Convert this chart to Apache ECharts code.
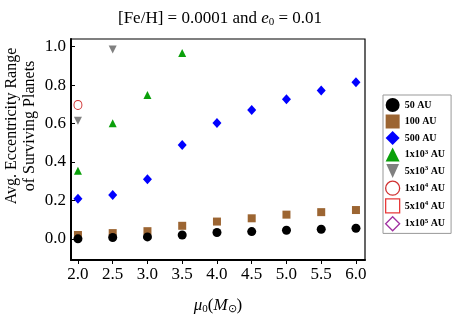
<!DOCTYPE html>
<html><head><meta charset="utf-8">
<script src="https://cdn.jsdelivr.net/npm/echarts@6/dist/echarts.min.js"></script>
<style>html,body{margin:0;padding:0;background:#fff}#c{width:463px;height:327px}</style>
</head><body><div id="c"></div>
<script>
const masses = [2.0, 2.5, 3.0, 3.5, 4.0, 4.5, 5.0, 5.5, 6.0];
const xTicks = [2.0, 2.5, 3.0, 3.5, 4.0, 4.5, 5.0, 5.5, 6.0];
const yTicks = [0.0, 0.2, 0.4, 0.6, 0.8, 1.0];
const seriesNames = ['50 AU', '100 AU', '500 AU', '1x10^3 AU', '5x10^3 AU', '1x10^4 AU', '5x10^4 AU', '1x10^5 AU'];
const e50 = [0.0, 0.007, 0.01, 0.02, 0.033, 0.038, 0.045, 0.05, 0.055];
const e100 = [0.02, 0.03, 0.04, 0.068, 0.09, 0.107, 0.126, 0.139, 0.15];
const e500 = [0.209, 0.228, 0.31, 0.488, 0.603, 0.671, 0.726, 0.772, 0.815];
const e1e3 = [0.355, 0.601, 0.748, 0.967];
const e5e3 = [0.615, 0.986];
const e1e4 = [0.697];
const e5e4 = [];
const e1e5 = [];

const valuesBySeries = [e50, e100, e500, e1e3, e5e3, e1e4, e5e4, e1e5];
const downTri = 'path://M0,0 L10,0 L5,11 Z';
const styles = [
  {symbol:'circle', size:[9,9], color:'#000000', legendIcon:'circle'},
  {symbol:'rect', size:[8,8], color:'#9c6532', legendIcon:'rect'},
  {symbol:'diamond', size:[9,10], color:'#0000ff', legendIcon:'diamond'},
  {symbol:'triangle', size:[8,8], color:'#0aa00a', legendIcon:'triangle'},
  {symbol:downTri, size:[8,8], color:'#808080', legendIcon:downTri},
  {symbol:'circle', size:[8,9], color:'#d03030', empty:true, legendIcon:'circle'},
  {symbol:'rect', size:[8,8], color:'#e83a3a', empty:true, legendIcon:'rect'},
  {symbol:'diamond', size:[9,10], color:'#a030a0', empty:true, legendIcon:'diamond'}
];

const series = seriesNames.map((name, i) => {
  const st = styles[i];
  return {
    name: name,
    type: 'scatter',
    data: valuesBySeries[i].map((v, k) => [masses[k], v]),
    symbol: st.symbol,
    symbolSize: st.size,
    itemStyle: st.empty ? {color:'rgba(255,255,255,0)', borderColor: st.color, borderWidth:1, opacity:1}
                        : {color: st.color, opacity:1},
    z: 10 - i
  };
});

const legendData = seriesNames.map((name, i) => {
  const st = styles[i];
  return {
    name: name,
    icon: st.legendIcon,
    itemStyle: st.empty ? {color:'#fff', borderColor: st.color, borderWidth:1.3}
                        : {color: st.color, borderWidth:0}
  };
});

const serif = 'Liberation Serif, Times New Roman, serif';
const chart = echarts.init(document.getElementById('c'), null, {renderer:'canvas'});
chart.setOption({
  animation: false,
  backgroundColor: '#fff',
  title: {
    text: '[Fe/H] = 0.0001 and {i|e}{sub|0} = 0.01',
    left: 113, top: 4,
    textStyle: {
      fontFamily: serif, fontSize: 17, fontWeight: 'normal', color: '#000',
      rich: {
        i: {fontFamily: serif, fontSize: 17, fontStyle: 'italic', color:'#000'},
        sub: {fontFamily: serif, fontSize: 11, color:'#000', padding:[8,0,0,0]}
      }
    }
  },
  grid: {left: 71, right: 98, top: 39, bottom: 67, show: true, borderColor: '#000', borderWidth: 1.2, backgroundColor: 'transparent'},
  xAxis: {
    type: 'value', min: 1.9, max: 6.13,
    splitLine: {show:false},
    axisLine: {show:true, onZero:false, lineStyle:{color:'#000', width:2}},
    axisTick: {show:true, inside:false, length:4, customValues: xTicks, lineStyle:{color:'#000', width:1}},
    axisLabel: {customValues: xTicks, formatter: v => v.toFixed(1), fontFamily: serif, fontSize: 17, color:'#000', margin: 6},
    name: '{i|μ}{sub|0}({i|M}{sub|⊙})',
    nameLocation: 'middle', nameGap: 36,
    nameTextStyle: {
      fontFamily: serif, fontSize: 17, color:'#000',
      rich: {
        i: {fontFamily: serif, fontSize: 17, fontStyle:'italic', color:'#000'},
        sub: {fontFamily: serif, fontSize: 11, color:'#000', padding:[8,0,0,0]}
      }
    }
  },
  yAxis: {
    type: 'value', min: -0.11, max: 1.04,
    splitLine: {show:false},
    axisLine: {show:true, onZero:false, lineStyle:{color:'#000', width:2}},
    axisTick: {show:true, inside:true, length:4, customValues: yTicks, lineStyle:{color:'#000', width:1}},
    axisLabel: {customValues: yTicks, formatter: v => v.toFixed(1), fontFamily: serif, fontSize: 17, color:'#000', margin: 5}
  },
  legend: {
    orient: 'vertical', left: 383, top: 95,
    width: 78,
    padding: [3, 6, 2, 2],
    itemWidth: 14, itemHeight: 14, itemGap: 2.5,
    borderColor: '#999', borderWidth: 1, backgroundColor:'#fff',
    data: legendData,
    formatter: n => n.replace(/\^(\d)/, '{sup|$1}'),
    textStyle: {
      fontFamily: serif, fontSize: 10, fontWeight: 'bold', color:'#000',
      rich: {sup: {fontFamily: serif, fontSize: 7, fontWeight:'bold', color:'#000', padding:[0,0,5,0]}}
    }
  },
  graphic: [{
    type: 'text', x: 21, y: 126, rotation: Math.PI/2, z: 100,
    style: {
      text: 'Avg. Eccentricity Range\nof Surviving Planets',
      x: 0, y: 0,
      align: 'center', verticalAlign: 'middle',
      font: '16px ' + serif, lineHeight: 18, fill: '#000'
    }
  }],
  series: series
});
</script></body></html>
